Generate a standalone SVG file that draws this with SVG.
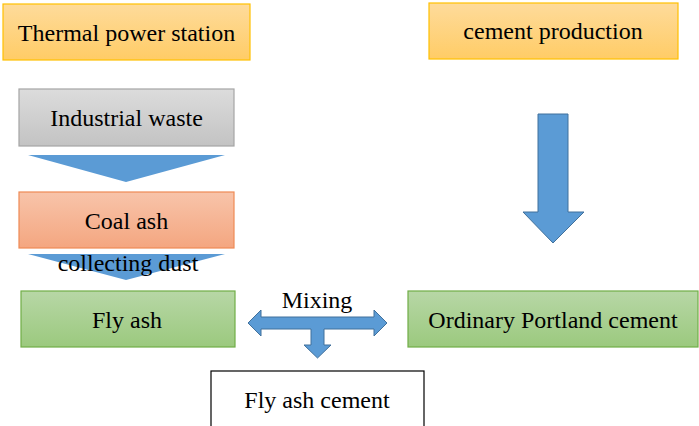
<svg xmlns="http://www.w3.org/2000/svg" width="699" height="426" viewBox="0 0 699 426">
<defs>
<linearGradient id="gOrange" x1="0" y1="0" x2="0" y2="1"><stop offset="0" stop-color="#fedb9b"/><stop offset="1" stop-color="#ffcc66"/></linearGradient>
<linearGradient id="gGray" x1="0" y1="0" x2="0" y2="1"><stop offset="0" stop-color="#dcdcdc"/><stop offset="1" stop-color="#c3c3c3"/></linearGradient>
<linearGradient id="gRed" x1="0" y1="0" x2="0" y2="1"><stop offset="0" stop-color="#f8c4aa"/><stop offset="1" stop-color="#f4a680"/></linearGradient>
<linearGradient id="gGreen" x1="0" y1="0" x2="0" y2="1"><stop offset="0" stop-color="#b7d7a6"/><stop offset="1" stop-color="#9bc97e"/></linearGradient>
</defs>
<style>
.t{font-family:'Liberation Serif',serif;font-size:24px;fill:#000;text-anchor:middle}
.orange{fill:url(#gOrange);stroke:#ffc000;stroke-width:1.2}
.gray{fill:url(#gGray);stroke:#a5a5a5;stroke-width:1.2}
.red{fill:url(#gRed);stroke:#ee8a55;stroke-width:1.2}
.green{fill:url(#gGreen);stroke:#70ad47;stroke-width:1.2}
.white{fill:#fff;stroke:#000;stroke-width:1.2}
.arrow{fill:#5b9bd5;stroke:#41719c;stroke-width:1}
.tri{fill:#5b9bd5}
</style>
<g id="thermal"><rect class="orange" x="3" y="4" width="247" height="56"/><text class="t" x="126.5" y="41">Thermal power station</text></g>
<g id="cementprod"><rect class="orange" x="429" y="3" width="249" height="56"/><text class="t" x="553" y="39">cement production</text></g>
<g id="industrial"><rect class="gray" x="19" y="89" width="215" height="57"/><text class="t" x="126.5" y="126">Industrial waste</text></g>
<g id="coalash"><rect class="red" x="19" y="192" width="215" height="56"/><text class="t" x="126.5" y="229">Coal ash</text></g>
<g id="flyash"><rect class="green" x="21" y="291" width="214" height="56"/><text class="t" x="127" y="328">Fly ash</text></g>
<g id="opc"><rect class="green" x="408" y="291" width="290" height="56"/><text class="t" x="553" y="328">Ordinary Portland cement</text></g>
<g id="flyashcement"><rect class="white" x="211" y="371" width="213" height="60"/><text class="t" x="317" y="408">Fly ash cement</text></g>
<g id="connectors">
<polygon class="tri" points="28,155 225,155 126,182"/>
<polygon class="tri" points="28,254 225,254 126,280"/>
<text class="t" x="128" y="271">collecting dust</text>
<polygon class="arrow" points="538,114 568,114 568,212 584,212 553,243 523,212 538,212"/>
<polygon class="arrow" points="248,323 261,310 261,317 374,317 374,310 387,323 374,336 374,329 324,329 324,345 331,345 317.5,358 304,345 311,345 311,329 261,329 261,336"/>
<text class="t" x="317" y="308">Mixing</text>
</g>
</svg>
